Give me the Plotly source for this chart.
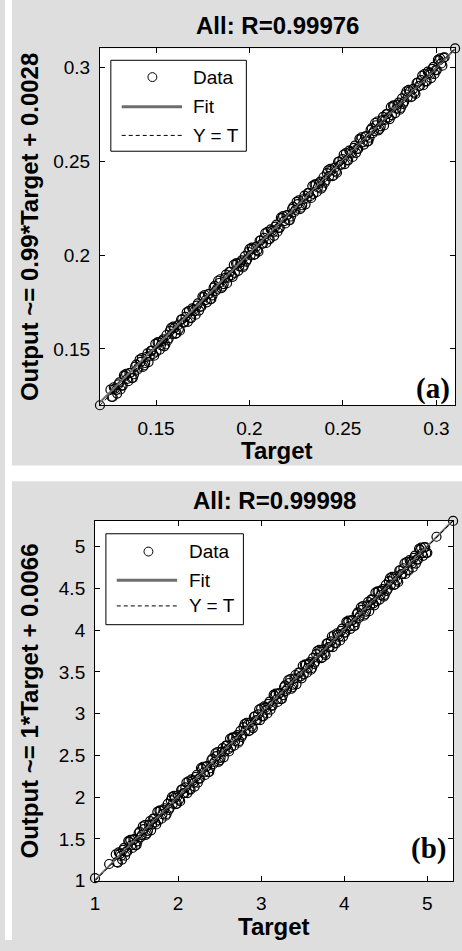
import plotly.graph_objects as go

W, H = 462, 951

# ---------------- data ----------------
a_target = [0.1200,
            0.1256, 0.1268, 0.1280, 0.1292, 0.1304, 0.1316, 0.1328, 0.1340, 0.1352, 0.1364,
            0.1376, 0.1388, 0.1400, 0.1412, 0.1424, 0.1436, 0.1448, 0.1460, 0.1472, 0.1484,
            0.1496, 0.1508, 0.1520, 0.1532, 0.1544, 0.1556, 0.1568, 0.1580, 0.1592, 0.1604,
            0.1616, 0.1628, 0.1640, 0.1652, 0.1664, 0.1676, 0.1688, 0.1700, 0.1712, 0.1724,
            0.1736, 0.1748, 0.1760, 0.1772, 0.1784, 0.1796, 0.1808, 0.1820, 0.1832, 0.1844,
            0.1856, 0.1868, 0.1880, 0.1892, 0.1904, 0.1916, 0.1928, 0.1940, 0.1952, 0.1964,
            0.1976, 0.1988, 0.2000, 0.2012, 0.2024, 0.2036, 0.2048, 0.2060, 0.2072, 0.2084,
            0.2096, 0.2108, 0.2120, 0.2132, 0.2144, 0.2156, 0.2168, 0.2180, 0.2192, 0.2204,
            0.2216, 0.2228, 0.2240, 0.2252, 0.2264, 0.2276, 0.2288, 0.2300, 0.2312, 0.2324,
            0.2336, 0.2348, 0.2360, 0.2372, 0.2384, 0.2396, 0.2408, 0.2420, 0.2432, 0.2444,
            0.2456, 0.2468, 0.2480, 0.2492, 0.2504, 0.2516, 0.2528, 0.2540, 0.2552, 0.2564,
            0.2576, 0.2588, 0.2600, 0.2612, 0.2624, 0.2636, 0.2648, 0.2660, 0.2672, 0.2684,
            0.2696, 0.2708, 0.2720, 0.2732, 0.2744, 0.2756, 0.2768, 0.2780, 0.2792, 0.2804,
            0.2816, 0.2828, 0.2840, 0.2852, 0.2864, 0.2876, 0.2888, 0.2900, 0.2912, 0.2924,
            0.2936, 0.2948, 0.2960, 0.2972, 0.2984, 0.2996, 0.3008, 0.3020, 0.3032, 0.3044,
            0.3100]
a_output = [0.1200,
            0.1283, 0.1244, 0.1289, 0.1262, 0.1322, 0.1305, 0.1359, 0.1367, 0.1328, 0.1373,
            0.1346, 0.1406, 0.1389, 0.1443, 0.1451, 0.1412, 0.1457, 0.1430, 0.1490, 0.1473,
            0.1527, 0.1535, 0.1496, 0.1541, 0.1514, 0.1574, 0.1557, 0.1611, 0.1619, 0.1580,
            0.1625, 0.1598, 0.1658, 0.1641, 0.1695, 0.1703, 0.1664, 0.1709, 0.1682, 0.1742,
            0.1725, 0.1779, 0.1787, 0.1748, 0.1793, 0.1766, 0.1826, 0.1809, 0.1863, 0.1871,
            0.1832, 0.1877, 0.1850, 0.1910, 0.1893, 0.1947, 0.1955, 0.1916, 0.1961, 0.1934,
            0.1994, 0.1977, 0.2031, 0.2039, 0.2000, 0.2045, 0.2018, 0.2078, 0.2061, 0.2115,
            0.2123, 0.2084, 0.2129, 0.2102, 0.2162, 0.2145, 0.2199, 0.2207, 0.2168, 0.2213,
            0.2186, 0.2246, 0.2229, 0.2283, 0.2291, 0.2252, 0.2297, 0.2270, 0.2330, 0.2313,
            0.2367, 0.2375, 0.2336, 0.2381, 0.2354, 0.2414, 0.2397, 0.2451, 0.2459, 0.2420,
            0.2465, 0.2438, 0.2498, 0.2481, 0.2535, 0.2543, 0.2504, 0.2549, 0.2522, 0.2582,
            0.2565, 0.2619, 0.2627, 0.2588, 0.2633, 0.2606, 0.2666, 0.2649, 0.2703, 0.2711,
            0.2672, 0.2717, 0.2690, 0.2750, 0.2733, 0.2787, 0.2795, 0.2756, 0.2801, 0.2774,
            0.2834, 0.2817, 0.2871, 0.2879, 0.2840, 0.2885, 0.2858, 0.2918, 0.2901, 0.2955,
            0.2963, 0.2924, 0.2969, 0.2942, 0.3002, 0.2985, 0.3039, 0.3047, 0.3008, 0.3053,
            0.3100]
# second run of samples interleaved along the band
a_target_2 = [0.1262, 0.1274, 0.1286, 0.1298, 0.1310, 0.1322, 0.1334, 0.1346, 0.1358, 0.1370,
              0.1382, 0.1394, 0.1406, 0.1418, 0.1430, 0.1442, 0.1454, 0.1466, 0.1478, 0.1490,
              0.1502, 0.1514, 0.1526, 0.1538, 0.1550, 0.1562, 0.1574, 0.1586, 0.1598, 0.1610,
              0.1622, 0.1634, 0.1646, 0.1658, 0.1670, 0.1682, 0.1694, 0.1706, 0.1718, 0.1730,
              0.1742, 0.1754, 0.1766, 0.1778, 0.1790, 0.1802, 0.1814, 0.1826, 0.1838, 0.1850,
              0.1862, 0.1874, 0.1886, 0.1898, 0.1910, 0.1922, 0.1934, 0.1946, 0.1958, 0.1970,
              0.1982, 0.1994, 0.2006, 0.2018, 0.2030, 0.2042, 0.2054, 0.2066, 0.2078, 0.2090,
              0.2102, 0.2114, 0.2126, 0.2138, 0.2150, 0.2162, 0.2174, 0.2186, 0.2198, 0.2210,
              0.2222, 0.2234, 0.2246, 0.2258, 0.2270, 0.2282, 0.2294, 0.2306, 0.2318, 0.2330,
              0.2342, 0.2354, 0.2366, 0.2378, 0.2390, 0.2402, 0.2414, 0.2426, 0.2438, 0.2450,
              0.2462, 0.2474, 0.2486, 0.2498, 0.2510, 0.2522, 0.2534, 0.2546, 0.2558, 0.2570,
              0.2582, 0.2594, 0.2606, 0.2618, 0.2630, 0.2642, 0.2654, 0.2666, 0.2678, 0.2690,
              0.2702, 0.2714, 0.2726, 0.2738, 0.2750, 0.2762, 0.2774, 0.2786, 0.2798, 0.2810,
              0.2822, 0.2834, 0.2846, 0.2858, 0.2870, 0.2882, 0.2894, 0.2906, 0.2918, 0.2930,
              0.2942, 0.2954, 0.2966, 0.2978, 0.2990, 0.3002, 0.3014, 0.3026, 0.3038]
a_output_2 = [0.1245, 0.1296, 0.1280, 0.1311, 0.1284, 0.1305, 0.1356, 0.1340, 0.1371, 0.1344,
              0.1365, 0.1416, 0.1400, 0.1431, 0.1404, 0.1425, 0.1476, 0.1460, 0.1491, 0.1464,
              0.1485, 0.1536, 0.1520, 0.1551, 0.1524, 0.1545, 0.1596, 0.1580, 0.1611, 0.1584,
              0.1605, 0.1656, 0.1640, 0.1671, 0.1644, 0.1665, 0.1716, 0.1700, 0.1731, 0.1704,
              0.1725, 0.1776, 0.1760, 0.1791, 0.1764, 0.1785, 0.1836, 0.1820, 0.1851, 0.1824,
              0.1845, 0.1896, 0.1880, 0.1911, 0.1884, 0.1905, 0.1956, 0.1940, 0.1971, 0.1944,
              0.1965, 0.2016, 0.2000, 0.2031, 0.2004, 0.2025, 0.2076, 0.2060, 0.2091, 0.2064,
              0.2085, 0.2136, 0.2120, 0.2151, 0.2124, 0.2145, 0.2196, 0.2180, 0.2211, 0.2184,
              0.2205, 0.2256, 0.2240, 0.2271, 0.2244, 0.2265, 0.2316, 0.2300, 0.2331, 0.2304,
              0.2325, 0.2376, 0.2360, 0.2391, 0.2364, 0.2385, 0.2436, 0.2420, 0.2451, 0.2424,
              0.2445, 0.2496, 0.2480, 0.2511, 0.2484, 0.2505, 0.2556, 0.2540, 0.2571, 0.2544,
              0.2565, 0.2616, 0.2600, 0.2631, 0.2604, 0.2625, 0.2676, 0.2660, 0.2691, 0.2664,
              0.2685, 0.2736, 0.2720, 0.2751, 0.2724, 0.2745, 0.2796, 0.2780, 0.2811, 0.2784,
              0.2805, 0.2856, 0.2840, 0.2871, 0.2844, 0.2865, 0.2916, 0.2900, 0.2931, 0.2904,
              0.2925, 0.2976, 0.2960, 0.2991, 0.2964, 0.2985, 0.3036, 0.3020, 0.3051]

b_target = [1.000, 1.170,
            1.250, 1.275, 1.300, 1.325, 1.350, 1.375, 1.400, 1.425, 1.450, 1.475,
            1.500, 1.525, 1.550, 1.575, 1.600, 1.625, 1.650, 1.675, 1.700, 1.725,
            1.750, 1.775, 1.800, 1.825, 1.850, 1.875, 1.900, 1.925, 1.950, 1.975,
            2.000, 2.025, 2.050, 2.075, 2.100, 2.125, 2.150, 2.175, 2.200, 2.225,
            2.250, 2.275, 2.300, 2.325, 2.350, 2.375, 2.400, 2.425, 2.450, 2.475,
            2.500, 2.525, 2.550, 2.575, 2.600, 2.625, 2.650, 2.675, 2.700, 2.725,
            2.750, 2.775, 2.800, 2.825, 2.850, 2.875, 2.900, 2.925, 2.950, 2.975,
            3.000, 3.025, 3.050, 3.075, 3.100, 3.125, 3.150, 3.175, 3.200, 3.225,
            3.250, 3.275, 3.300, 3.325, 3.350, 3.375, 3.400, 3.425, 3.450, 3.475,
            3.500, 3.525, 3.550, 3.575, 3.600, 3.625, 3.650, 3.675, 3.700, 3.725,
            3.750, 3.775, 3.800, 3.825, 3.850, 3.875, 3.900, 3.925, 3.950, 3.975,
            4.000, 4.025, 4.050, 4.075, 4.100, 4.125, 4.150, 4.175, 4.200, 4.225,
            4.250, 4.275, 4.300, 4.325, 4.350, 4.375, 4.400, 4.425, 4.450, 4.475,
            4.500, 4.525, 4.550, 4.575, 4.600, 4.625, 4.650, 4.675, 4.700, 4.725,
            4.750, 4.775, 4.800, 4.825, 4.850, 4.875, 4.900, 4.925, 4.950, 4.975,
            5.000, 5.110, 5.310]
b_output = [1.030, 1.200,
            1.315, 1.217, 1.322, 1.253, 1.394, 1.348, 1.475, 1.490, 1.392, 1.497,
            1.428, 1.569, 1.523, 1.650, 1.665, 1.567, 1.672, 1.603, 1.744, 1.698,
            1.825, 1.840, 1.742, 1.847, 1.778, 1.919, 1.873, 2.000, 2.015, 1.917,
            2.022, 1.953, 2.094, 2.048, 2.175, 2.190, 2.092, 2.197, 2.128, 2.269,
            2.223, 2.350, 2.365, 2.267, 2.372, 2.303, 2.444, 2.398, 2.525, 2.540,
            2.442, 2.547, 2.478, 2.619, 2.573, 2.700, 2.715, 2.617, 2.722, 2.653,
            2.794, 2.748, 2.875, 2.890, 2.792, 2.897, 2.828, 2.969, 2.923, 3.050,
            3.065, 2.967, 3.072, 3.003, 3.144, 3.098, 3.225, 3.240, 3.142, 3.247,
            3.178, 3.319, 3.273, 3.400, 3.415, 3.317, 3.422, 3.353, 3.494, 3.448,
            3.575, 3.590, 3.492, 3.597, 3.528, 3.669, 3.623, 3.750, 3.765, 3.667,
            3.772, 3.703, 3.844, 3.798, 3.925, 3.940, 3.842, 3.947, 3.878, 4.019,
            3.973, 4.100, 4.115, 4.017, 4.122, 4.053, 4.194, 4.148, 4.275, 4.290,
            4.192, 4.297, 4.228, 4.369, 4.323, 4.450, 4.465, 4.367, 4.472, 4.403,
            4.544, 4.498, 4.625, 4.640, 4.542, 4.647, 4.578, 4.719, 4.673, 4.800,
            4.815, 4.717, 4.822, 4.753, 4.894, 4.848, 4.975, 4.990, 4.892, 4.997,
            4.928, 5.120, 5.310]
b_target_2 = [1.262, 1.287, 1.312, 1.337, 1.362, 1.387, 1.412, 1.437, 1.462, 1.487,
              1.512, 1.537, 1.562, 1.587, 1.612, 1.637, 1.662, 1.687, 1.712, 1.737,
              1.762, 1.787, 1.812, 1.837, 1.862, 1.887, 1.912, 1.937, 1.962, 1.987,
              2.012, 2.037, 2.062, 2.087, 2.112, 2.137, 2.162, 2.187, 2.212, 2.237,
              2.262, 2.287, 2.312, 2.337, 2.362, 2.387, 2.412, 2.437, 2.462, 2.487,
              2.512, 2.537, 2.562, 2.587, 2.612, 2.637, 2.662, 2.687, 2.712, 2.737,
              2.762, 2.787, 2.812, 2.837, 2.862, 2.887, 2.912, 2.937, 2.962, 2.987,
              3.012, 3.037, 3.062, 3.087, 3.112, 3.137, 3.162, 3.187, 3.212, 3.237,
              3.262, 3.287, 3.312, 3.337, 3.362, 3.387, 3.412, 3.437, 3.462, 3.487,
              3.512, 3.537, 3.562, 3.587, 3.612, 3.637, 3.662, 3.687, 3.712, 3.737,
              3.762, 3.787, 3.812, 3.837, 3.862, 3.887, 3.912, 3.937, 3.962, 3.987,
              4.012, 4.037, 4.062, 4.087, 4.112, 4.137, 4.162, 4.187, 4.212, 4.237,
              4.262, 4.287, 4.312, 4.337, 4.362, 4.387, 4.412, 4.437, 4.462, 4.487,
              4.512, 4.537, 4.562, 4.587, 4.612, 4.637, 4.662, 4.687, 4.712, 4.737,
              4.762, 4.787, 4.812, 4.837, 4.862, 4.887, 4.912, 4.937, 4.962, 4.987]
b_output_2 = [1.222, 1.339, 1.297, 1.368, 1.299, 1.347, 1.464, 1.422, 1.493, 1.424,
              1.472, 1.589, 1.547, 1.618, 1.549, 1.597, 1.714, 1.672, 1.743, 1.674,
              1.722, 1.839, 1.797, 1.868, 1.799, 1.847, 1.964, 1.922, 1.993, 1.924,
              1.972, 2.089, 2.047, 2.118, 2.049, 2.097, 2.214, 2.172, 2.243, 2.174,
              2.222, 2.339, 2.297, 2.368, 2.299, 2.347, 2.464, 2.422, 2.493, 2.424,
              2.472, 2.589, 2.547, 2.618, 2.549, 2.597, 2.714, 2.672, 2.743, 2.674,
              2.722, 2.839, 2.797, 2.868, 2.799, 2.847, 2.964, 2.922, 2.993, 2.924,
              2.972, 3.089, 3.047, 3.118, 3.049, 3.097, 3.214, 3.172, 3.243, 3.174,
              3.222, 3.339, 3.297, 3.368, 3.299, 3.347, 3.464, 3.422, 3.493, 3.424,
              3.472, 3.589, 3.547, 3.618, 3.549, 3.597, 3.714, 3.672, 3.743, 3.674,
              3.722, 3.839, 3.797, 3.868, 3.799, 3.847, 3.964, 3.922, 3.993, 3.924,
              3.972, 4.089, 4.047, 4.118, 4.049, 4.097, 4.214, 4.172, 4.243, 4.174,
              4.222, 4.339, 4.297, 4.368, 4.299, 4.347, 4.464, 4.422, 4.493, 4.424,
              4.472, 4.589, 4.547, 4.618, 4.549, 4.597, 4.714, 4.672, 4.743, 4.674,
              4.722, 4.839, 4.797, 4.868, 4.799, 4.847, 4.964, 4.922, 4.993, 4.924]

a_fit = (0.99, 0.0028)
b_fit = (1.0, 0.0066)
a_range = [0.12, 0.31]
b_range = [1.0, 5.31]

a_ticks = [0.15, 0.2, 0.25, 0.3]
a_ticklabels = ["0.15", "0.2", "0.25", "0.3"]
b_xticks = [1, 2, 3, 4, 5]
b_xticklabels = ["1", "2", "3", "4", "5"]
b_yticks = [1, 1.5, 2, 2.5, 3, 3.5, 4, 4.5, 5]
b_yticklabels = ["1", "1.5", "2", "2.5", "3", "3.5", "4", "4.5", "5"]

titles = ["All: R=0.99976", "All: R=0.99998"]
xlabel = "Target"
ylabels = ["Output ~= 0.99*Target + 0.0028", "Output ~= 1*Target + 0.0066"]
tags = ["(a)", "(b)"]
legend_labels = ["Data", "Fit", "Y = T"]

# ---------------- helpers ----------------
def px(x):
    return x / W

def py(y):
    return 1 - y / H

SANS = "Liberation Sans, Arial, sans-serif"
SERIF = "Liberation Serif, Times New Roman, serif"
FIT_COLOR = "#6e6e6e"
BG = "#dedede"

fig = go.Figure()

panels = [
    dict(t=a_target + a_target_2, o=a_output + a_output_2, fit=a_fit, rng=a_range, xa="x", ya="y"),
    dict(t=b_target + b_target_2, o=b_output + b_output_2, fit=b_fit, rng=b_range, xa="x2", ya="y2"),
]
for p in panels:
    fig.add_trace(go.Scatter(x=p["t"], y=p["o"], mode="markers", xaxis=p["xa"], yaxis=p["ya"],
                             marker=dict(symbol="circle-open", size=9, color="black",
                                         line=dict(width=1.2, color="black")),
                             cliponaxis=False, showlegend=False, name="Data"))
    lo, hi = p["rng"]
    m, c = p["fit"]
    fig.add_trace(go.Scatter(x=[lo, hi], y=[m * lo + c, m * hi + c], mode="lines",
                             xaxis=p["xa"], yaxis=p["ya"],
                             line=dict(color=FIT_COLOR, width=2), showlegend=False, name="Fit"))
    fig.add_trace(go.Scatter(x=[lo, hi], y=[lo, hi], mode="lines", xaxis=p["xa"], yaxis=p["ya"],
                             line=dict(color="black", width=1, dash="4px,3px"),
                             showlegend=False, name="Y = T"))

axis_common = dict(showline=True, linecolor="black", linewidth=1, mirror="ticks",
                   ticks="inside", ticklen=5, tickcolor="black", tickwidth=1,
                   showgrid=False, zeroline=False,
                   tickfont=dict(family=SANS, size=19, color="black"))

fig.update_layout(
    width=W, height=H,
    margin=dict(l=0, r=0, t=0, b=0),
    paper_bgcolor=BG, plot_bgcolor="white",
    showlegend=False,
    xaxis=dict(domain=[px(96), px(455)], range=a_range, anchor="y",
               tickvals=a_ticks, ticktext=a_ticklabels, ticklabelstandoff=6, **axis_common),
    yaxis=dict(domain=[py(410), py(49)], range=a_range, anchor="x",
               tickvals=a_ticks, ticktext=a_ticklabels, ticklabelstandoff=5, **axis_common),
    xaxis2=dict(domain=[px(91), px(453)], range=b_range, anchor="y2",
                tickvals=b_xticks, ticktext=b_xticklabels, ticklabelstandoff=6, **axis_common),
    yaxis2=dict(domain=[py(891), py(527)], range=b_range, anchor="x2",
                tickvals=b_yticks, ticktext=b_yticklabels, ticklabelstandoff=5, **axis_common),
)

shapes = [
    # white gutters of the picture
    dict(type="rect", xref="paper", yref="paper", x0=0, x1=px(7), y0=0, y1=1,
         fillcolor="white", line=dict(width=0), layer="below"),
    dict(type="rect", xref="paper", yref="paper", x0=0, x1=1, y0=py(487), y1=py(471),
         fillcolor="white", line=dict(width=0), layer="below"),
]
annotations = []

# per-panel decorations (pixel layout)
layouts = [
    dict(title=(275, 26), xlab=(275, 456), ylab=(25, 230), tag=(433, 393),
         box=(107, 61, 244, 153), rows=(78, 108, 137), mark_x=149, line=(118, 179), text_x=188),
    dict(title=(272, 506), xlab=(272, 937), ylab=(25, 709), tag=(428, 858),
         box=(102, 540, 241, 632), rows=(558, 587, 613), mark_x=145, line=(113, 174), text_x=184),
]

for i, L in enumerate(layouts):
    annotations.append(dict(text=titles[i], x=px(L["title"][0]), y=py(L["title"][1]),
                            xref="paper", yref="paper", showarrow=False,
                            xanchor="center", yanchor="middle",
                            font=dict(family=SANS, size=24, color="black", weight="bold")))
    annotations.append(dict(text=xlabel, x=px(L["xlab"][0]), y=py(L["xlab"][1]),
                            xref="paper", yref="paper", showarrow=False,
                            xanchor="center", yanchor="middle",
                            font=dict(family=SANS, size=24, color="black", weight="bold")))
    annotations.append(dict(text=ylabels[i], x=px(L["ylab"][0]), y=py(L["ylab"][1]),
                            xref="paper", yref="paper", showarrow=False, textangle=-90,
                            xanchor="center", yanchor="middle",
                            font=dict(family=SANS, size=24, color="black", weight="bold")))
    annotations.append(dict(text=tags[i], x=px(L["tag"][0]), y=py(L["tag"][1]),
                            xref="paper", yref="paper", showarrow=False,
                            xanchor="center", yanchor="middle",
                            font=dict(family=SERIF, size=29, color="black", weight="bold")))
    # legend
    x0, y0, x1, y1 = L["box"]
    shapes.append(dict(type="rect", xref="paper", yref="paper", x0=px(x0), x1=px(x1),
                       y0=py(y1), y1=py(y0), fillcolor="white",
                       line=dict(color="black", width=1), layer="above"))
    r0, r1, r2 = L["rows"]
    mx = L["mark_x"]
    shapes.append(dict(type="circle", xref="paper", yref="paper",
                       x0=px(mx - 4.5), x1=px(mx + 4.5), y0=py(r0 + 4.5), y1=py(r0 - 4.5),
                       line=dict(color="black", width=1), fillcolor="rgba(0,0,0,0)", layer="above"))
    lx0, lx1 = L["line"]
    shapes.append(dict(type="line", xref="paper", yref="paper", x0=px(lx0), x1=px(lx1),
                       y0=py(r1), y1=py(r1), line=dict(color=FIT_COLOR, width=3), layer="above"))
    shapes.append(dict(type="line", xref="paper", yref="paper", x0=px(lx0), x1=px(lx1),
                       y0=py(r2), y1=py(r2), line=dict(color="black", width=1, dash="4px,3px"),
                       layer="above"))
    for lab, ry in zip(legend_labels, L["rows"]):
        annotations.append(dict(text=lab, x=px(L["text_x"]), y=py(ry), xref="paper", yref="paper",
                                showarrow=False, xanchor="left", yanchor="middle",
                                font=dict(family=SANS, size=19, color="black")))

fig.update_layout(shapes=shapes, annotations=annotations)
fig.write_html("out.html", config={"displayModeBar": False},
               post_script="document.body.style.margin='0';document.body.style.overflow='hidden';")
